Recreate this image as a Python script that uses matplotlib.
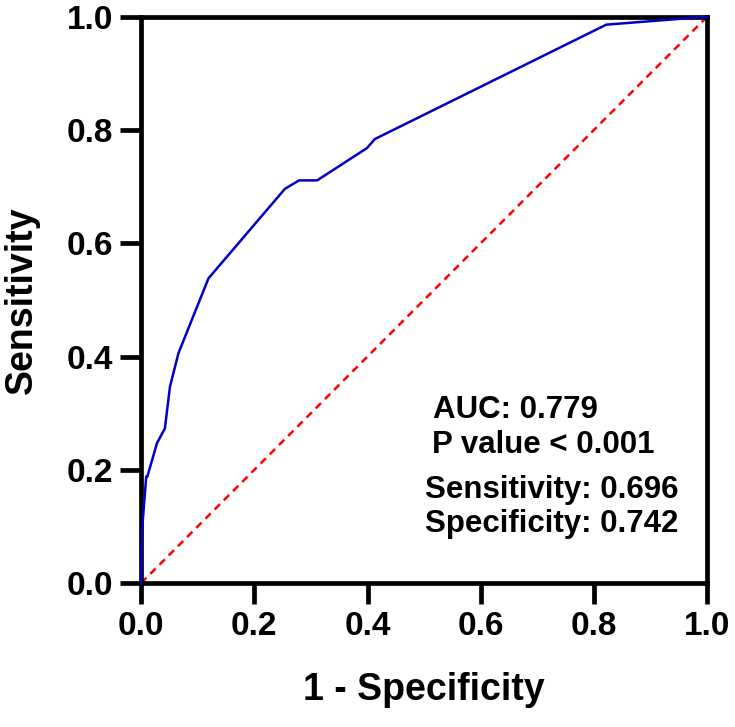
import matplotlib
matplotlib.use("Agg")
import matplotlib.pyplot as plt

# ROC curve points
fpr = [0.0, 0.001, 0.003, 0.009, 0.011, 0.028, 0.042, 0.051, 0.066, 0.119,
       0.254, 0.279, 0.311, 0.399, 0.413, 0.822, 1.0]
tpr = [0.0, 0.064, 0.111, 0.188, 0.188, 0.247, 0.273, 0.347, 0.406, 0.538,
       0.696, 0.711, 0.711, 0.768, 0.784, 0.986, 1.0]
stats_lines = ["AUC: 0.779", "P value < 0.001", "Sensitivity: 0.696", "Specificity: 0.742"]
ticks = [0.0, 0.2, 0.4, 0.6, 0.8, 1.0]

plt.rcParams["font.family"] = ["Liberation Sans", "DejaVu Sans"]
plt.rcParams["font.weight"] = "bold"

fig = plt.figure(figsize=(7.35, 7.27), dpi=100)
ax = fig.add_axes([0.192, 0.198, 0.770, 0.779])

ax.plot([0, 1], [0, 1], color="#ff0000", lw=1.8, ls=(0, (3, 2.2)), zorder=2)
ax.plot(fpr, tpr, color="#0000c8", lw=1.8, zorder=3, clip_on=False)

ax.set_xlim(0, 1)
ax.set_ylim(0, 1)
ax.set_xticks(ticks, [f"{t:.1f}" for t in ticks])
ax.set_yticks(ticks, [f"{t:.1f}" for t in ticks])
for s in ax.spines.values():
    s.set_linewidth(3.4)
ax.tick_params(direction="out", length=15, width=3.4, pad=5, labelsize=24)

ax.set_xlabel("1 - Specificity", fontsize=27, fontweight="bold", va="center")
ax.set_ylabel("Sensitivity", fontsize=27, fontweight="bold", va="center")
ax.xaxis.set_label_coords(0.5, -0.189)
ax.yaxis.set_label_coords(-0.21, 0.5)

# stats box, one line at a time
xs = [0.516, 0.514, 0.502, 0.502]
ys = [0.2915, 0.229, 0.150, 0.090]
for x, y, t in zip(xs, ys, stats_lines):
    ax.text(x, y, t, transform=ax.transAxes, fontsize=22.5, fontweight="bold",
            va="baseline", ha="left")

fig.savefig("out.png", dpi=100)
